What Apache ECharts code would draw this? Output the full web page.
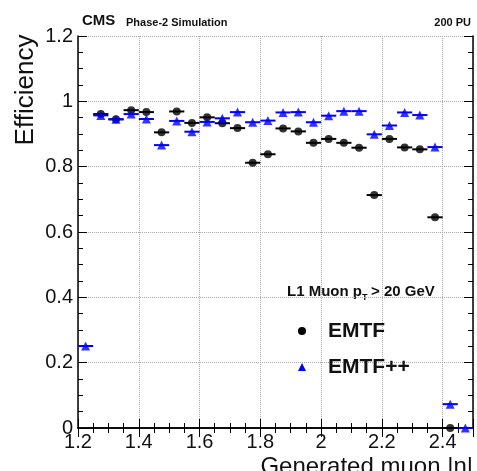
<!DOCTYPE html>
<html>
<head>
<meta charset="utf-8">
<script src="https://cdn.jsdelivr.net/npm/echarts@6/dist/echarts.min.js"></script>
<style>
  html, body { margin: 0; padding: 0; background: #fff; }
  #chart { width: 477px; height: 471px; }
</style>
</head>
<body>
<div id="chart"></div>
<script>
// bin centres in |eta| (bin width 0.05)
var etaBins = [1.225, 1.275, 1.325, 1.375, 1.425, 1.475, 1.525, 1.575, 1.625, 1.675,
               1.725, 1.775, 1.825, 1.875, 1.925, 1.975, 2.025, 2.075, 2.125, 2.175,
               2.225, 2.275, 2.325, 2.375, 2.425, 2.475];
var halfBin = 0.025;

var emtf = [null, 0.961, 0.945, 0.973, 0.967, 0.905, 0.969, 0.934, 0.951, 0.933,
            0.918, 0.812, 0.838, 0.917, 0.908, 0.873, 0.885, 0.873, 0.858, 0.713,
            0.885, 0.859, 0.853, 0.645, 0.0, null];

var emtfPP = [0.251, 0.957, 0.945, 0.961, 0.946, 0.866, 0.940, 0.907, 0.937, 0.948,
              0.967, 0.936, 0.941, 0.966, 0.967, 0.936, 0.956, 0.970, 0.970, 0.899,
              0.926, 0.966, 0.958, 0.860, 0.073, 0.0];

var xTicks = [1.2, 1.4, 1.6, 1.8, 2, 2.2, 2.4];
var yTicks = [0, 0.2, 0.4, 0.6, 0.8, 1, 1.2];

function pairs(vals) {
  var out = [];
  for (var i = 0; i < etaBins.length; i++) {
    if (vals[i] !== null) out.push([etaBins[i], vals[i]]);
  }
  return out;
}

function errBars(params, api) {
  var a = api.coord([api.value(0) - halfBin, api.value(1)]);
  var b = api.coord([api.value(0) + halfBin, api.value(1)]);
  return {
    type: 'line',
    shape: { x1: a[0], y1: a[1], x2: b[0], y2: b[1] },
    style: { stroke: api.visual('color'), lineWidth: 2 }
  };
}

function tickLabel(v) {
  for (var i = 0; i < xTicks.length; i++) {
    if (Math.abs(v - xTicks[i]) < 1e-6) return String(xTicks[i]);
  }
  return '';
}
function yLabel(v) {
  for (var i = 0; i < yTicks.length; i++) {
    if (Math.abs(v - yTicks[i]) < 1e-6) return String(yTicks[i]);
  }
  return '';
}

var font = 'Liberation Sans, Arial, Helvetica, sans-serif';
var chart = echarts.init(document.getElementById('chart'));

var frameAxis = {
  axisLine: { show: true, lineStyle: { color: '#000', width: 1.5 } },
  axisTick: { show: true, inside: true, length: 9, lineStyle: { color: '#000' } },
  minorTick: { show: true, splitNumber: 4, length: 5, lineStyle: { color: '#000' } }
};

var option = {
  backgroundColor: '#fff',
  animation: false,
  grid: { left: 78, right: 4, top: 36, bottom: 43 },
  xAxis: [
    Object.assign({
      type: 'value', min: 1.2, max: 2.5, interval: 0.2,
      axisLabel: { formatter: tickLabel, fontFamily: font, fontSize: 20, color: '#111', margin: 4, showMaxLabel: false },
      splitLine: { show: true, lineStyle: { color: '#aaa', type: 'dotted', width: 1 } }
    }, frameAxis),
    Object.assign({
      type: 'value', min: 1.2, max: 2.5, interval: 0.2, position: 'top',
      axisLabel: { show: false }, splitLine: { show: false }
    }, frameAxis)
  ],
  yAxis: [
    Object.assign({
      type: 'value', min: 0, max: 1.2, interval: 0.2,
      axisLabel: { formatter: yLabel, fontFamily: font, fontSize: 20, color: '#111', margin: 5 },
      splitLine: { show: true, lineStyle: { color: '#aaa', type: 'dotted', width: 1 } }
    }, frameAxis),
    Object.assign({
      type: 'value', min: 0, max: 1.2, interval: 0.2, position: 'right',
      axisLabel: { show: false }, splitLine: { show: false }
    }, frameAxis)
  ],
  legend: {
    orient: 'vertical',
    left: 298,
    top: 320,
    padding: 0,
    itemGap: 14,
    itemWidth: 8,
    itemHeight: 8,
    textStyle: { fontFamily: font, fontSize: 21, fontWeight: 'bold', color: '#111', lineHeight: 22, padding: [0, 0, 0, 17] },
    data: [
      { name: 'EMTF', icon: 'circle', itemStyle: { color: '#000' } },
      { name: 'EMTF++', icon: 'triangle', itemStyle: { color: '#0000ff' } }
    ]
  },
  graphic: [
    { type: 'text', left: 82, top: 13, style: { text: 'CMS', font: 'bold 15px ' + font, fill: '#111' } },
    { type: 'text', left: 126, top: 17, style: { text: 'Phase-2 Simulation', font: 'bold 11px ' + font, fill: '#111' } },
    { type: 'text', right: 6, top: 17, style: { text: '200 PU', font: 'bold 11px ' + font, fill: '#111' } },
    { type: 'text', left: 287, top: 284, style: { text: 'L1 Muon p', font: 'bold 15px ' + font, fill: '#111' } },
    { type: 'text', left: 362, top: 293, style: { text: 'T', font: 'bold 9px ' + font, fill: '#111' } },
    { type: 'text', left: 371, top: 284, style: { text: '> 20 GeV', font: 'bold 15px ' + font, fill: '#111' } },
    { type: 'text', x: 26, y: 90, rotation: Math.PI / 2,
      style: { text: 'Efficiency', font: '26px ' + font, fill: '#111', align: 'center', verticalAlign: 'middle' } },
    { type: 'text', right: 4, top: 455, style: { text: 'Generated muon |η|', font: '24px ' + font, fill: '#111' } }
  ],
  series: [
    {
      name: 'EMTF', type: 'custom', renderItem: errBars, clip: false,
      itemStyle: { color: '#000' }, data: pairs(emtf), z: 2
    },
    {
      name: 'EMTF', type: 'scatter', symbol: 'circle', symbolSize: 8, clip: false,
      itemStyle: { color: '#000' }, data: pairs(emtf), z: 3
    },
    {
      name: 'EMTF++', type: 'custom', renderItem: errBars, clip: false,
      itemStyle: { color: '#0000ff' }, data: pairs(emtfPP), z: 4
    },
    {
      name: 'EMTF++', type: 'scatter', symbol: 'triangle', symbolSize: 9, clip: false,
      itemStyle: { color: '#0000ff' }, data: pairs(emtfPP), z: 5
    }
  ]
};

chart.setOption(option);
</script>
</body>
</html>
